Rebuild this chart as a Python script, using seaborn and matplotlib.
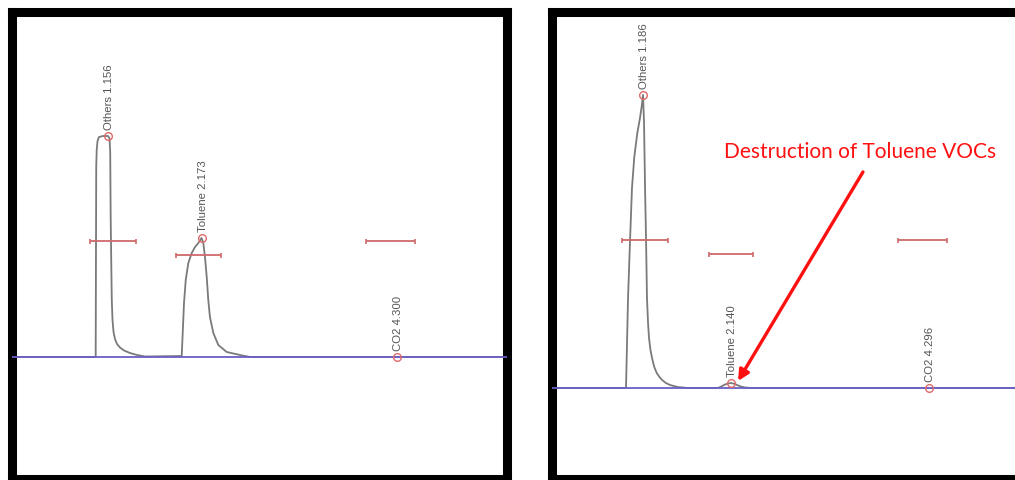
import matplotlib
matplotlib.use("Agg")
import matplotlib.pyplot as plt
import seaborn as sns
import pandas as pd

sns.set_theme(style="white")
plt.rcParams['font.family'] = ['Liberation Sans', 'DejaVu Sans']

# ---- Data: chromatogram traces (retention time in min, signal in a.u.)
before_time = [0.107, 1.022, 1.028, 1.033, 1.042, 1.058, 1.102, 1.156, 1.172, 1.180, 1.185,
               1.191, 1.197, 1.205, 1.216, 1.232, 1.254, 1.286, 1.330, 1.395, 1.471, 1.558,
               1.957, 1.968, 1.982, 2.001, 2.029, 2.066, 2.102, 2.138, 2.173, 2.192, 2.210,
               2.229, 2.246, 2.264, 2.301, 2.355, 2.446, 2.591, 2.700, 5.493]
before_signal = [0, 0, 190, 207, 216, 220, 221, 221, 219, 205, 140,
                 97, 57, 37, 25, 18, 13, 9.5, 6.5, 4, 2, 0.5,
                 1, 24, 54, 77, 94, 104, 110, 114, 119, 114, 100,
                 80, 57, 40, 24, 12, 5, 2, 0, 0]

after_time = [0.191, 1.001, 1.012, 1.023, 1.045, 1.066, 1.091, 1.124, 1.153, 1.172, 1.186,
              1.197, 1.208, 1.219, 1.229, 1.240, 1.251, 1.267, 1.284, 1.308, 1.335, 1.365,
              1.393, 1.435, 1.479, 1.560, 1.675, 2.001, 2.035, 2.067, 2.100, 2.140, 2.175,
              2.208, 2.250, 2.295, 2.371, 5.556]
after_signal = [0, 0, 45, 90, 148, 200, 231, 255, 270, 282, 293,
                265, 200, 148, 90, 66, 50, 38, 30, 21, 15, 11,
                8, 5, 3, 1, 0, 0, 1.5, 3, 4.3, 5, 4.3,
                3, 1.5, 0.5, 0, 0]

peak_names = ["Others", "Toluene", "CO2"]
before_peak_rt = [1.156, 2.173, 4.300]
before_peak_h = [221, 119, 0]
after_peak_rt = [1.186, 2.140, 4.296]
after_peak_h = [293, 5, 0]

window_start = [0.96, 1.90, 3.96]
window_end = [1.46, 2.38, 4.49]
before_window_level = [116, 102, 116]
after_window_level = [148, 134, 148]

annotation_text = "Destruction of Toluene VOCs"

W, H = 1015, 480
fig = plt.figure(figsize=(W / 100, H / 100), dpi=100)

def px_axes(left, top, right, bottom):
    return fig.add_axes([left / W, 1 - bottom / H, (right - left) / W, (bottom - top) / H])

ax1 = px_axes(11.5, 11.5, 507, 478.5)
ax2 = px_axes(551.5, 11.5, 1045, 478.5)

trace_color = "#7a7a7a"
base_color = "#6a5fc9"
win_color = "#cf6a6a"
mark_color = "#e06a6a"
label_color = "#555555"

def draw(ax, t, s, rts, hs, levels, xlim, ylim):
    df = pd.DataFrame({"t": t, "s": s})
    sns.lineplot(data=df, x="t", y="s", ax=ax, color=trace_color, lw=1.3, sort=False,
                 estimator=None, zorder=2)
    ax.axhline(0, color=base_color, lw=1.3, zorder=3)
    for a, b, lv in zip(window_start, window_end, levels):
        ax.errorbar([(a + b) / 2], [lv], xerr=[(b - a) / 2], fmt="none", ecolor=win_color,
                    elinewidth=1.3, capsize=1.8, capthick=1.2, zorder=3)
    ax.plot(rts, hs, "o", ms=5.5, mfc="none", mec=mark_color, mew=1.0, zorder=4)
    for name, rt, h in zip(peak_names, rts, hs):
        ax.annotate(f"{name} {rt:.3f}", (rt, h), xytext=(1, 6), textcoords="offset pixels",
                    rotation=90, ha="center", va="bottom", fontsize=8.2, color=label_color)
    ax.set_xlim(*xlim)
    ax.set_ylim(*ylim)
    ax.set_xticks([])
    ax.set_yticks([])
    ax.set_xlabel("")
    ax.set_ylabel("")
    for sp in ax.spines.values():
        sp.set_visible(True)
        sp.set_color("black")
        sp.set_linewidth(6.5)
    ax.set_facecolor("white")

draw(ax1, before_time, before_signal, before_peak_rt, before_peak_h, before_window_level,
     (0.107, 5.493), (-121.5, 345.5))
draw(ax2, after_time, after_signal, after_peak_rt, after_peak_h, after_window_level,
     (0.191, 5.556), (-90.5, 376.5))

ax2.text(3.545, 236, annotation_text, ha="center", va="center", fontsize=15,
         color="#ff1010", family=["Lato", "DejaVu Sans"])
ax2.annotate("", xy=(2.219, 7), xytext=(3.577, 216),
             arrowprops=dict(arrowstyle="-|>", lw=2.4, color="#ff1010", mutation_scale=16,
                             shrinkA=0, shrinkB=0))

fig.savefig("out.png", dpi=100)
